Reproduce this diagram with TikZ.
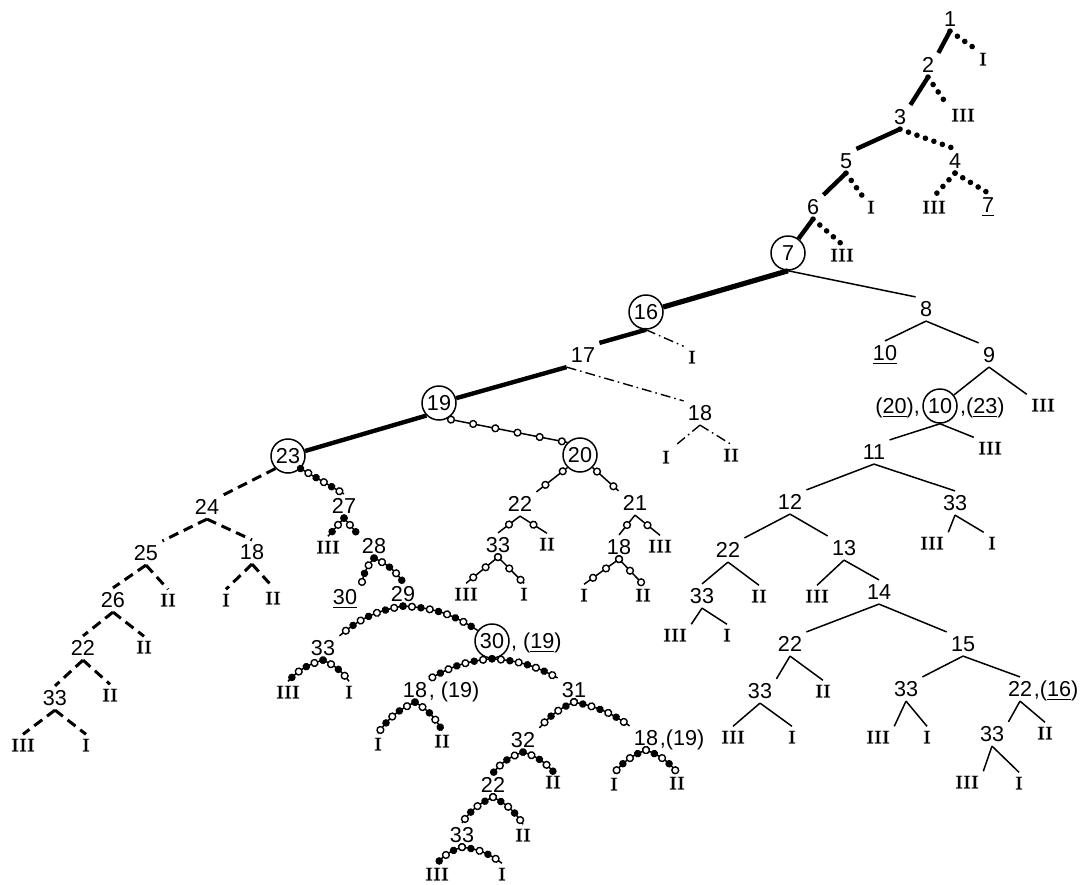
\documentclass[tikz,border=0pt]{standalone}
\usepackage{fontspec}
\setmainfont{Liberation Sans}
\newfontfamily\romfont[FakeStretch=1.25, FakeBold=1]{Liberation Serif}
\usetikzlibrary{decorations.markings}
\tikzset{
  lab/.style={font=\fontsize{10.8}{12}\selectfont, inner sep=2pt, text height=7.7pt, text depth=0pt},
  rom/.style={font=\romfont\fontsize{9.5}{10}\selectfont, inner sep=2pt, text height=6.3pt, text depth=0pt},
  tail/.style={lab, inner sep=0pt, anchor=west, xshift=-1.5pt},
  ring/.style={circle, draw, line width=0.75pt, minimum size=17pt, inner sep=0pt, font=\fontsize{10.8}{12}\selectfont},
  heavy/.style={line width=2.2pt},
  plain/.style={line width=0.75pt},
  dotrow/.style={line width=2.8pt, line cap=round, dash pattern=on 0pt off 4.5pt},
  dashrow/.style={line width=1.5pt, dash pattern=on 5pt off 3pt},
  dashdotrow/.style={line width=0.7pt, dash pattern=on 5pt off 2pt on 0.8pt off 2pt},
  openchain/.style 2 args={plain, postaction={decorate}, decoration={markings,
    mark=between positions #1 and 1 step #2 with {\draw[line width=0.7pt, fill=white] (0,0) circle (1.7pt);}}},
  midbead/.style={plain, postaction={decorate}, decoration={markings,
    mark=at position #1 with {\draw[line width=0.7pt, fill=white] (0,0) circle (1.7pt);}}},
  mixchain/.style={plain, postaction={decorate}, decoration={markings,
    mark=between positions 0 and 1 step 9pt with {\fill (0,0) circle (1.9pt);},
    mark=between positions 4.5pt and 1 step 9pt with {\draw[line width=0.7pt, fill=white] (0,0) circle (1.7pt);}}},
  mixchainB/.style={plain, postaction={decorate}, decoration={markings,
    mark=between positions 0 and 1 step 9pt with {\draw[line width=0.7pt, fill=white] (0,0) circle (1.7pt);},
    mark=between positions 4.5pt and 1 step 9pt with {\fill (0,0) circle (1.9pt);}}}
}
\begin{document}
\begin{tikzpicture}[x=0.5pt, y=-0.5pt]
\useasboundingbox (0,0) rectangle (1086,884);
\node[lab] (n1) at (950,19) {1};
\node[rom] (r1) at (983,59) {I};
\node[lab] (n2) at (928,65) {2};
\node[rom] (r2) at (963,115) {III};
\node[lab] (n3) at (900,117) {3};
\node[lab] (n5) at (846,161) {5};
\node[lab] (n4) at (955,161) {4};
\node[lab] (n6) at (813,207) {6};
\node[rom] (r3) at (871,207) {I};
\node[rom] (r4) at (934,207) {III};
\node[lab] (u7) at (988,205) {\underline{7}};
\node[ring] (c7) at (788,253) {7};
\node[rom] (r5) at (842,255) {III};
\draw[heavy] (n1.south) -- (n2.north east);
\draw[dotrow] (n1.south) -- (r1.north west);
\draw[heavy] (n2.south) -- (n3.north east);
\draw[dotrow] (n2.south) -- (r2.north west);
\draw[heavy] (n3.south) -- (n5.north east);
\draw[dotrow] (n3.south) -- (n4.north);
\draw[heavy] (n5.south) -- (n6.north east);
\draw[dotrow] (n5.south) -- (r3.north west);
\draw[dotrow] (n4.south) -- (r4.north);
\draw[dotrow] (n4.south) -- (u7.north);
\draw[heavy] (n6.south) -- (c7);
\draw[dotrow] (n6.south) -- (r5.north);
\node[ring] (c16) at (646,312) {16};
\node[lab] (n8) at (926,309) {8};
\node[lab] (n17) at (583,355) {17};
\node[rom] (r6) at (692,357) {I};
\node[lab] (u10) at (885,353) {\underline{10}};
\node[lab] (n9) at (989,355) {9};
\node[ring] (c10) at (940,406) {10};
\node[lab, inner sep=1pt, anchor=east] (p20) at (c10.west) {(\underline{20}),};
\node[lab, inner sep=1pt, anchor=west] (p23) at (c10.east) {,(\underline{23})};
\node[rom] (r9) at (1043,405) {III};
\node[lab] (n18a) at (700,413) {18};
\node[rom] (r7) at (666,457) {I};
\node[rom] (r8) at (731,455) {II};
\node[ring] (c19) at (439,403) {19};
\node[ring] (c20) at (580,455) {20};
\node[ring] (c23) at (288,456) {23};
\draw[heavy, line width=2.6pt] (c7.south) -- (c16);
\draw[plain] (c7.south) -- (n8.north west);
\draw[heavy] (c16.south) -- (n17.north east);
\draw[dashdotrow] (c16.south) -- (r6.north west);
\draw[heavy] (n17.south west) -- (c19);
\draw[dashdotrow] (n17.south west) -- (n18a.north west);
\draw[dashdotrow] (n18a.south) -- (r7.north east);
\draw[dashdotrow] (n18a.south) -- (r8.north);
\draw[plain] (n8.south) -- (u10.north);
\draw[plain] (n8.south) -- (n9.north west);
\draw[plain] (n9.south) -- (c10);
\draw[plain] (n9.south) -- (r9.north west);
\node[lab] (n11) at (874,452) {11};
\node[rom] (r10) at (990,448) {III};
\node[lab] (n12) at (790,502) {12};
\node[lab] (n33a) at (955,503) {33};
\node[rom] (r11) at (932,543) {III};
\node[rom] (r12) at (992,543) {I};
\node[lab] (n22a) at (728,550) {22};
\node[lab] (n13) at (844,548) {13};
\node[lab] (n33b) at (702,596) {33};
\node[rom] (r13) at (759,596) {II};
\node[rom] (r14) at (817,596) {III};
\node[lab] (n14) at (879,592) {14};
\node[rom] (r15) at (675,635) {III};
\node[rom] (r16) at (727,635) {I};
\node[lab] (n22b) at (790,644) {22};
\node[lab] (n15) at (963,644) {15};
\node[lab] (n33c) at (760,691) {33};
\node[rom] (r17) at (823,691) {II};
\node[lab] (n33d) at (906,689) {33};
\node[lab] (n22c) at (1020,689) {22};
\node[tail] (q16) at (n22c.east) {,(\underline{16})};
\node[rom] (r18) at (733,737) {III};
\node[rom] (r19) at (792,737) {I};
\node[rom] (r20) at (878,737) {III};
\node[rom] (r21) at (927,737) {I};
\node[lab] (n33e) at (992,734) {33};
\node[rom] (r22) at (1045,733) {II};
\node[rom] (r23) at (967,782) {III};
\node[rom] (r24) at (1019,783) {I};
\draw[plain] (c10.south) -- (n11.north east);
\draw[plain] (c10.south) -- (r10.north west);
\draw[plain] (n11.south) -- (n12.north east);
\draw[plain] (n11.south) -- (n33a.north);
\draw[plain] (n12.south) -- (n22a.north east);
\draw[plain] (n12.south) -- (n13.north west);
\draw[plain] (n33a.south) -- (r11.north east);
\draw[plain] (n33a.south) -- (r12.north west);
\draw[plain] (n22a.south) -- (n33b.north);
\draw[plain] (n22a.south) -- (r13.north);
\draw[plain] (n13.south) -- (r14.north);
\draw[plain] (n13.south) -- (n14.north);
\draw[plain] (n33b.south) -- (r15.north east);
\draw[plain] (n33b.south) -- (r16.north);
\draw[plain] (n14.south) -- (n22b.north east);
\draw[plain] (n14.south) -- (n15.north west);
\draw[plain] (n22b.south) -- (n33c.north east);
\draw[plain] (n22b.south) -- (r17.north);
\draw[plain] (n15.south) -- (n33d.north east);
\draw[plain] (n15.south) -- (n22c.north);
\draw[plain] (n33c.south) -- (r18.north);
\draw[plain] (n33c.south) -- (r19.north);
\draw[plain] (n33d.south) -- (r20.north east);
\draw[plain] (n33d.south) -- (r21.north);
\draw[plain] (n22c.south) -- (n33e.north east);
\draw[plain] (n22c.south) -- (r22.north);
\draw[plain] (n33e.south) -- (r23.north east);
\draw[plain] (n33e.south) -- (r24.north);
\node[lab] (n24) at (207,507) {24};
\node[lab] (n25) at (146,553) {25};
\node[lab] (n18b) at (252,552) {18};
\node[lab] (n26) at (113,600) {26};
\node[rom] (r25) at (168,600) {II};
\node[rom] (r26) at (226,600) {I};
\node[rom] (r27) at (273,598) {II};
\node[lab] (n22d) at (83,648) {22};
\node[rom] (r28) at (144,647) {II};
\node[lab] (n33f) at (55,698) {33};
\node[rom] (r29) at (110,695) {II};
\node[rom] (r30) at (23,745) {III};
\node[rom] (r31) at (86,745) {I};
\draw[heavy] (c19.south west) -- (c23);
\draw[dashrow] (c23.south west) -- (n24.north east);
\draw[dashrow] (n24.south) -- (n25.north east);
\draw[dashrow] (n24.south) -- (n18b.north);
\draw[dashrow] (n25.south) -- (n26.north);
\draw[dashrow] (n25.south) -- (r25.north);
\draw[dashrow] (n18b.south) -- (r26.north);
\draw[dashrow] (n18b.south) -- (r27.north);
\draw[dashrow] (n26.south) -- (n22d.north);
\draw[dashrow] (n26.south) -- (r28.north);
\draw[dashrow] (n22d.south) -- (n33f.north);
\draw[dashrow] (n22d.south) -- (r29.north);
\draw[dashrow] (n33f.south) -- (r30.north);
\draw[dashrow] (n33f.south) -- (r31.north);
\node[lab] (n22f) at (520,504) {22};
\node[lab] (n21) at (635,503) {21};
\node[lab] (n33i) at (498,545) {33};
\node[rom] (r43) at (547,544) {II};
\node[lab] (n18e) at (619,547) {18};
\node[rom] (r44) at (660,546) {III};
\node[rom] (r45) at (466,594) {III};
\node[rom] (r46) at (524,594) {I};
\node[rom] (r47) at (584,595) {I};
\node[rom] (r48) at (643,595) {II};
\draw[openchain={2pt}{11.3pt}] (c19.-63) -- (c20.135);
\draw[openchain={3pt}{11pt}] (c20.-135) -- (n22f.north east);
\draw[openchain={3pt}{11pt}] (c20.-45) -- (n21.north west);
\draw[midbead=0.5] (n22f.south) -- (n33i.north);
\draw[midbead=0.5] (n22f.south) -- (r43.north);
\draw[midbead=0.5] (n21.south) -- (n18e.north);
\draw[midbead=0.5] (n21.south) -- (r44.north);
\draw[openchain={0pt}{8pt}] (n33i.south) -- (r45.north);
\draw[openchain={0pt}{8pt}] (n33i.south) -- (r46.north);
\draw[openchain={0pt}{8pt}] (n18e.south) -- (r47.north);
\draw[openchain={0pt}{8pt}] (n18e.south) -- (r48.north);
\node[lab] (n27) at (344,506) {27};
\node[rom] (r32) at (328,547) {III};
\node[lab] (n28) at (374,546) {28};
\node[lab] (u30) at (345,597) {\underline{30}};
\node[lab] (n29) at (403,594) {29};
\node[lab] (n33g) at (323,648) {33};
\node[ring] (c30) at (492,641) {30};
\node[tail, xshift=2pt] (q19a) at (c30.east) {, (\underline{19})};
\node[rom] (r33) at (288,692) {III};
\node[rom] (r34) at (349,692) {I};
\node[lab] (n18c) at (415,690) {18};
\node[tail] (q19b) at (n18c.east) {, (19)};
\node[lab] (n31) at (574,690) {31};
\node[rom] (r35) at (378,744) {I};
\node[rom] (r36) at (442,741) {II};
\node[lab] (n32) at (523,740) {32};
\node[lab] (n18d) at (646,738) {18};
\node[tail] (q19c) at (n18d.east) {,(19)};
\node[lab] (n22e) at (493,785) {22};
\node[rom] (r37) at (553,782) {II};
\node[rom] (r38) at (614,784) {I};
\node[rom] (r39) at (677,783) {II};
\node[lab] (n33h) at (462,835) {33};
\node[rom] (r40) at (523,835) {II};
\node[rom] (r41) at (437,874) {III};
\node[rom] (r42) at (502,874) {I};
\draw[mixchain] (c23.south east) -- (n27.north);
\draw[mixchain] (n27.south) -- (r32.north);
\draw[mixchain] (n27.south) -- (n28.north west);
\draw[mixchain] (n28.south) to[bend right=15] (u30.north east);
\draw[mixchain] (n28.south) to[bend left=15] (n29.north);
\draw[mixchain] (n29.south) to[bend right=15] (n33g.north east);
\draw[mixchain] (n29.south) to[bend left=15] (c30);
\draw[mixchain] (n33g.south) to[bend right=15] (r33.north);
\draw[mixchain] (n33g.south) to[bend left=15] (r34.north);
\draw[mixchain] (c30.south) to[bend right=12] (n18c.north east);
\draw[mixchain] (c30.south) to[bend left=12] (n31.north west);
\draw[mixchain] (n18c.south) to[bend right=15] (r35.north);
\draw[mixchain] (n18c.south) to[bend left=15] (r36.north);
\draw[mixchainB] (n31.south) to[bend right=12] (n32.north east);
\draw[mixchainB] (n31.south) to[bend left=12] (n18d.north west);
\draw[mixchain] (n32.south) to[bend right=15] (n22e.north);
\draw[mixchain] (n32.south) to[bend left=15] (r37.north);
\draw[mixchainB] (n18d.south) to[bend right=15] (r38.north);
\draw[mixchainB] (n18d.south) to[bend left=15] (r39.north);
\draw[mixchainB] (n22e.south) to[bend right=15] (n33h.north);
\draw[mixchainB] (n22e.south) to[bend left=15] (r40.north);
\draw[mixchainB] (n33h.south) to[bend right=15] (r41.north);
\draw[mixchainB] (n33h.south) to[bend left=15] (r42.north);
\end{tikzpicture}
\end{document}
